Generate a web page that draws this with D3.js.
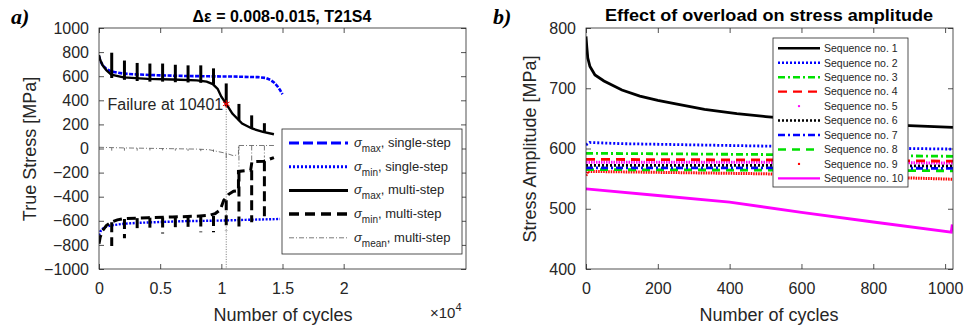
<!DOCTYPE html>
<html>
<head>
<meta charset="utf-8">
<script src="https://cdn.jsdelivr.net/npm/d3@7"></script>
<style>
  body { margin: 0; background: #fff; }
  svg { font-family: "Liberation Sans", Arial, sans-serif; }
</style>
</head>
<body>
<svg id="chart" width="964" height="328"></svg>
<script>
// ---------- panel a: cycles in units of 1e4 ----------
const singleMaxX = [0, 0.01, 0.03, 0.06, 0.1, 0.15, 0.2, 0.3, 0.5, 0.7, 0.9, 1.1, 1.3, 1.36, 1.4, 1.43, 1.46, 1.48, 1.5];
const singleMaxY = [765, 730, 690, 660, 640, 630, 622, 615, 607, 602, 599, 597, 592, 586, 570, 548, 515, 485, 450];
const singleMinX = [0, 0.01, 0.03, 0.06, 0.1, 0.2, 0.3, 0.5, 0.7, 1.0, 1.2, 1.48];
const singleMinY = [-720, -690, -665, -648, -638, -625, -618, -610, -603, -598, -592, -585];

const multiMaxX = [0, 0.01, 0.03, 0.06, 0.1, 0.2, 0.4, 0.6, 0.8, 0.88, 0.93, 0.97, 1.0, 1.04, 1.09, 1.17, 1.25, 1.34, 1.43];
const multiMaxY = [775, 735, 690, 650, 612, 590, 578, 572, 565, 555, 535, 495, 430, 370, 290, 207, 166, 138, 118];
const multiMinX = [0, 0.01, 0.03, 0.06, 0.1, 0.15, 0.2, 0.4, 0.6, 0.8, 0.9, 0.95, 0.99, 1.02, 1.06, 1.1, 1.14, 1.14, 1.24, 1.25, 1.35, 1.43];
const multiMinY = [-790, -735, -680, -640, -612, -592, -582, -574, -568, -562, -555, -540, -510, -430, -380, -355, -350, -190, -180, -110, -105, -75];
const meanX = [0, 0.2, 0.5, 0.8, 0.9, 0.97, 1.04, 1.1, 1.14, 1.14, 1.43];
const meanY = [10, 5, 0, -5, -10, -25, -40, -60, -50, 25, 25];

// overload cycles and the excursions they cause
const overloadX = [0.104, 0.208, 0.312, 0.416, 0.52, 0.624, 0.728, 0.832, 0.936, 1.04, 1.144, 1.248, 1.352];
const overloadMaxTop = [795, 730, 710, 705, 705, 695, 690, 690, 665, 540, 370, 275, 210];
const overloadMaxLow = [585, 570, 560, 555, 555, 550, 548, 545, 530, 350, 235, 165, 130];
const overloadMinTop = [-612, -585, -578, -574, -572, -570, -567, -565, -560, -430, -190, -180, -105];
const overloadMinLow = [-810, -745, -700, -690, -705, -670, -670, -695, -695, -680, -655, -612, -600];
const overloadMeanTop = [5, 5, 3, 2, 0, 0, -2, -4, -8, -40, 25, 25, 25];
const overloadMeanLow = [-18, -18, -18, -16, -16, -18, -20, -22, -28, -80, -150, -110, -75];

const failureCycle = 1.0401;
const failureStress = 370;

const xTicksA = [0, 0.5, 1, 1.5, 2];
const yTicksA = [-1000, -800, -600, -400, -200, 0, 200, 400, 600, 800, 1000];

// ---------- panel b ----------
const seqNames = ["Sequence no. 1", "Sequence no. 2", "Sequence no. 3", "Sequence no. 4", "Sequence no. 5",
                  "Sequence no. 6", "Sequence no. 7", "Sequence no. 8", "Sequence no. 9", "Sequence no. 10"];
const seqX = [
  [0, 2, 5, 11, 25, 50, 100, 150, 200, 250, 330, 420, 500, 600, 700, 800, 900, 1022],
  [0, 10, 100, 300, 500, 700, 900, 1022],
  [0, 500, 1022],
  [0, 500, 1022],
  [0, 500, 1022],
  [0, 500, 1022],
  [0, 500, 1022],
  [0, 500, 1022],
  [0, 5, 500, 1022],
  [0, 200, 400, 600, 800, 1017, 1020]
];
const seqY = [
  [786, 770, 750, 736, 722, 712, 697, 687, 680, 674, 665, 658, 653, 648, 644, 641, 638, 635],
  [606, 610, 608, 606, 604, 602, 600, 599],
  [592, 590, 587],
  [582, 581, 579],
  [577, 577, 576],
  [572, 572, 571],
  [568, 568, 567],
  [565, 564, 563],
  [555, 562, 558, 549],
  [533, 522, 511, 494, 478, 461, 474]
];
const xTicksB = [0, 200, 400, 600, 800, 1000];
const yTicksB = [400, 500, 600, 700, 800];

const seqColor = ["#000", "#0000ff", "#00e000", "#ff0000", "#ff00ff", "#000", "#0000ff", "#00e000", "#ff0000", "#ff00ff"];
const seqDash = ["", "2,2", "7,3,2,3", "9,6", "1.5,1", "2,2", "7,3,2,3", "8,6", "1.5,1", ""];

const svg = d3.select("#chart");
const axisColor = "#262626";

function frame(g, x, y, xTicks, yTicks, id) {
  const [x0, x1] = x.range();
  const [y0, y1] = y.range();
  g.append("clipPath").attr("id", id).append("rect")
    .attr("x", x0).attr("y", y1).attr("width", x1 - x0).attr("height", y0 - y1);

  const style = a => {
    a.select(".domain").remove();
    a.selectAll("line").attr("stroke", axisColor).attr("stroke-width", 0.8);
    a.selectAll("text").attr("fill", axisColor).attr("font-size", 16)
      .attr("font-family", "Liberation Sans, Arial, sans-serif");
  };
  g.append("g").attr("transform", `translate(0,${y0})`)
    .call(d3.axisBottom(x).tickValues(xTicks).tickSize(-5).tickPadding(14).tickFormat(d3.format("~g")))
    .call(style);
  g.append("g").attr("transform", `translate(0,${y1})`)
    .call(d3.axisTop(x).tickValues(xTicks).tickSize(-5).tickFormat(""))
    .call(style);
  g.append("g").attr("transform", `translate(${x0},0)`)
    .call(d3.axisLeft(y).tickValues(yTicks).tickSize(-5).tickPadding(10).tickFormat(d3.format("d")))
    .call(style);
  g.append("g").attr("transform", `translate(${x1},0)`)
    .call(d3.axisRight(y).tickValues(yTicks).tickSize(-5).tickFormat(""))
    .call(style);
}

function border(g, x, y) {
  const [x0, x1] = x.range();
  const [y0, y1] = y.range();
  g.append("rect").attr("x", x0).attr("y", y1).attr("width", x1 - x0).attr("height", y0 - y1)
    .attr("fill", "none").attr("stroke", axisColor).attr("stroke-width", 0.8);
}

const zip = (xs, ys) => xs.map((v, i) => [v, ys[i]]);

// ================= panel a =================
const xA = d3.scaleLinear().domain([0, 3]).range([99, 466]);
const yA = d3.scaleLinear().domain([-1000, 1000]).range([269, 28]);
const gA = svg.append("g");
frame(gA, xA, yA, xTicksA, yTicksA, "clipA");
const lineA = d3.line().x(d => xA(d[0])).y(d => yA(d[1]));
const plotA = gA.append("g").attr("clip-path", "url(#clipA)");

// failure marker line
plotA.append("line")
  .attr("x1", xA(failureCycle)).attr("x2", xA(failureCycle))
  .attr("y1", yA(failureStress)).attr("y2", yA(-1000))
  .attr("stroke", "#555").attr("stroke-width", 0.8).attr("stroke-dasharray", "1,1.5");

// mean, multi-step
plotA.append("path").datum(zip(meanX, meanY)).attr("d", lineA)
  .attr("fill", "none").attr("stroke", "#555").attr("stroke-width", 0.8).attr("stroke-dasharray", "5,2,1,2");
overloadX.forEach((c, i) => {
  plotA.append("line").attr("x1", xA(c)).attr("x2", xA(c))
    .attr("y1", yA(overloadMeanTop[i])).attr("y2", yA(overloadMeanLow[i]))
    .attr("stroke", "#555").attr("stroke-width", 0.8).attr("stroke-dasharray", "5,2,1,2");
});

// single-step
plotA.append("path").datum(zip(singleMaxX, singleMaxY)).attr("d", lineA)
  .attr("fill", "none").attr("stroke", "#0000ff").attr("stroke-width", 2.6).attr("stroke-dasharray", "4,1.5");
plotA.append("path").datum(zip(singleMinX, singleMinY)).attr("d", lineA)
  .attr("fill", "none").attr("stroke", "#0000ff").attr("stroke-width", 2.4).attr("stroke-dasharray", "2,1.5");

// multi-step max
plotA.append("path").datum(zip(multiMaxX, multiMaxY)).attr("d", lineA)
  .attr("fill", "none").attr("stroke", "#000").attr("stroke-width", 2.4);
overloadX.forEach((c, i) => {
  plotA.append("line").attr("x1", xA(c)).attr("x2", xA(c))
    .attr("y1", yA(overloadMaxTop[i])).attr("y2", yA(overloadMaxLow[i]))
    .attr("stroke", "#000").attr("stroke-width", 3);
});

// multi-step min
plotA.append("path").datum(zip(multiMinX, multiMinY)).attr("d", lineA)
  .attr("fill", "none").attr("stroke", "#000").attr("stroke-width", 3).attr("stroke-dasharray", "9,5");
overloadX.forEach((c, i) => {
  plotA.append("line").attr("x1", xA(c)).attr("x2", xA(c))
    .attr("y1", yA(overloadMinTop[i])).attr("y2", yA(overloadMinLow[i]))
    .attr("stroke", "#000").attr("stroke-width", 3).attr("stroke-dasharray", "10,5");
});

// failure star
plotA.append("path").attr("d", d3.symbol(d3.symbolAsterisk, 40)())
  .attr("transform", `translate(${xA(failureCycle)},${yA(failureStress)})`)
  .attr("fill", "none").attr("stroke", "#ff0000").attr("stroke-width", 1);
gA.append("text").attr("x", xA(failureCycle) - 3).attr("y", yA(failureStress) + 6)
  .attr("text-anchor", "end").attr("font-size", 16).attr("fill", axisColor).text("Failure at 10401");

border(gA, xA, yA);

// legend a
const legA = gA.append("g");
legA.append("rect").attr("x", 282).attr("y", 129).attr("width", 180).attr("height", 125)
  .attr("fill", "#fff").attr("stroke", axisColor).attr("stroke-width", 0.8);
const legAItems = [
  { sub: "max", txt: ", single-step", color: "#0000ff", w: 3, dash: "10,4" },
  { sub: "min", txt: ", single-step", color: "#0000ff", w: 3, dash: "2,2" },
  { sub: "max", txt: ", multi-step", color: "#000", w: 3, dash: "" },
  { sub: "min", txt: ", multi-step", color: "#000", w: 3.5, dash: "10,6" },
  { sub: "mean", txt: ", multi-step", color: "#555", w: 0.8, dash: "5,2,1,2" }
];
legAItems.forEach((d, i) => {
  const yy = 143 + i * 23.7;
  legA.append("line").attr("x1", 289).attr("x2", 348).attr("y1", yy).attr("y2", yy)
    .attr("stroke", d.color).attr("stroke-width", d.w).attr("stroke-dasharray", d.dash);
  const t = legA.append("text").attr("x", 354).attr("y", yy + 4).attr("font-size", 13).attr("fill", axisColor);
  t.append("tspan").attr("font-style", "italic").text("σ");
  t.append("tspan").attr("font-size", 10).attr("dy", 5).text(d.sub);
  t.append("tspan").attr("dy", -5).text(d.txt);
});

// titles and labels a
gA.append("text").attr("x", 282).attr("y", 22).attr("text-anchor", "middle")
  .attr("font-size", 16).attr("font-weight", "bold").attr("fill", "#000").text("Δε = 0.008-0.015, T21S4");
gA.append("text").attr("x", 283).attr("y", 321).attr("text-anchor", "middle")
  .attr("font-size", 18).attr("fill", axisColor).text("Number of cycles");
gA.append("text").attr("transform", "translate(36,149) rotate(-90)").attr("text-anchor", "middle")
  .attr("font-size", 18).attr("fill", axisColor).text("True Stress [MPa]");
const exp = gA.append("text").attr("x", 430).attr("y", 318).attr("font-size", 15).attr("fill", axisColor);
exp.append("tspan").text("×10");
exp.append("tspan").attr("font-size", 11).attr("dy", -7).text("4");
svg.append("text").attr("x", 11).attr("y", 24).attr("font-family", "Liberation Serif, serif")
  .attr("font-style", "italic").attr("font-weight", "bold").attr("font-size", 22).text("a)");

// ================= panel b =================
const xB = d3.scaleLinear().domain([0, 1022]).range([586, 953]);
const yB = d3.scaleLinear().domain([400, 800]).range([269, 28]);
const gB = svg.append("g");
frame(gB, xB, yB, xTicksB, yTicksB, "clipB");
const lineB = d3.line().x(d => xB(d[0])).y(d => yB(d[1]));
const plotB = gB.append("g").attr("clip-path", "url(#clipB)");

const drawOrder = [9, 8, 7, 6, 5, 4, 3, 2, 1, 0];
drawOrder.forEach(i => {
  plotB.append("path").datum(zip(seqX[i], seqY[i])).attr("d", lineB)
    .attr("fill", "none").attr("stroke", seqColor[i])
    .attr("stroke-width", i === 4 || i === 8 ? 3 : 2.8)
    .attr("stroke-dasharray", seqDash[i]);
});
border(gB, xB, yB);

// legend b
const legB = gB.append("g");
legB.append("rect").attr("x", 773).attr("y", 38).attr("width", 135).attr("height", 149)
  .attr("fill", "#fff").attr("stroke", axisColor).attr("stroke-width", 0.8);
seqNames.forEach((name, i) => {
  const yy = 48.3 + i * 14.45;
  if (i === 4 || i === 8) {
    legB.append("circle").attr("cx", 799).attr("cy", yy).attr("r", 1.2).attr("fill", seqColor[i]);
  } else {
    legB.append("line").attr("x1", 778).attr("x2", 820).attr("y1", yy).attr("y2", yy)
      .attr("stroke", seqColor[i]).attr("stroke-width", 2.4).attr("stroke-dasharray", seqDash[i]);
  }
  legB.append("text").attr("x", 824).attr("y", yy + 3.8).attr("font-size", 10.5)
    .attr("fill", axisColor).text(name);
});

gB.append("text").attr("x", 769).attr("y", 21).attr("text-anchor", "middle")
  .attr("font-size", 16).attr("font-weight", "bold").attr("fill", "#000")
  .attr("textLength", 328).attr("lengthAdjust", "spacingAndGlyphs")
  .text("Effect of overload on stress amplitude");
gB.append("text").attr("x", 769).attr("y", 321).attr("text-anchor", "middle")
  .attr("font-size", 18).attr("fill", axisColor).text("Number of cycles");
gB.append("text").attr("transform", "translate(536,149) rotate(-90)").attr("text-anchor", "middle")
  .attr("font-size", 18).attr("fill", axisColor).text("Stress Amplitude [MPa]");
svg.append("text").attr("x", 493).attr("y", 24).attr("font-family", "Liberation Serif, serif")
  .attr("font-style", "italic").attr("font-weight", "bold").attr("font-size", 22).text("b)");
</script>
</body>
</html>
